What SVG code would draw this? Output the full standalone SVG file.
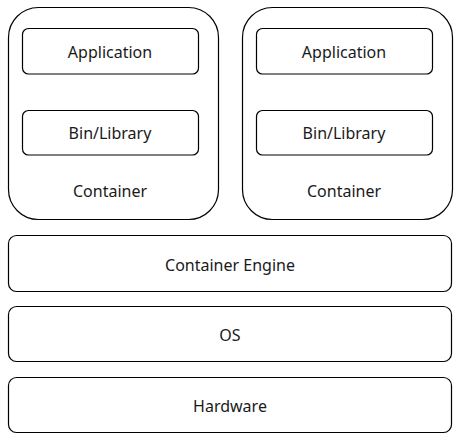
<svg xmlns="http://www.w3.org/2000/svg" width="463" height="446" viewBox="0 0 463 446">
<style>
rect{fill:#fff;stroke:#000;stroke-width:1.2}
text{font-family:"Noto Sans","Open Sans",sans-serif;font-size:16px;fill:#1a1a1a;text-anchor:middle;dominant-baseline:central}
</style>
<rect x="0" y="0" width="463" height="446" style="stroke:none"/>
<g id="container1">
<rect x="8.5" y="7.5" width="210" height="212" rx="30"/>
<text x="110" y="191">Container</text>
</g>
<g id="app1"><rect x="22.5" y="28.5" width="176" height="45.5" rx="6"/><text x="110" y="52">Application</text></g>
<g id="bin1"><rect x="22.5" y="110.5" width="176" height="44.5" rx="6"/><text x="110" y="133">Bin/Library</text></g>
<g id="container2">
<rect x="242.5" y="7.5" width="210" height="212" rx="30"/>
<text x="344" y="191">Container</text>
</g>
<g id="app2"><rect x="256.5" y="28.5" width="176" height="45.5" rx="6"/><text x="344" y="52">Application</text></g>
<g id="bin2"><rect x="256.5" y="110.5" width="176" height="44.5" rx="6"/><text x="344" y="133">Bin/Library</text></g>
<g id="engine"><rect x="8.5" y="235.5" width="443" height="56" rx="8"/><text x="230" y="265">Container Engine</text></g>
<g id="os"><rect x="8.5" y="306.5" width="443" height="55" rx="8"/><text x="230" y="335">OS</text></g>
<g id="hardware"><rect x="8.5" y="377.5" width="443" height="55" rx="8"/><text x="230" y="406">Hardware</text></g>
<g id="connectors"></g>
</svg>
